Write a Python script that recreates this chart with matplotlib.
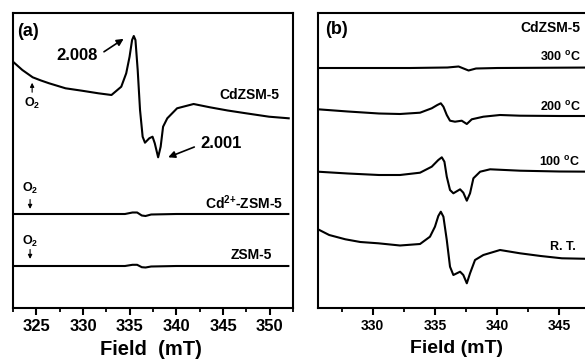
import matplotlib
matplotlib.use("Agg")
import matplotlib.pyplot as plt

plt.rcParams['font.family'] = ['Liberation Sans', 'DejaVu Sans']
plt.rcParams['font.weight'] = 'bold'
plt.rcParams['mathtext.fontset'] = 'custom'
plt.rcParams['mathtext.rm'] = 'Liberation Sans:bold'
plt.rcParams['mathtext.default'] = 'rm'

# ---------------------- DATA (a) ----------------------
# field in mT, signal in arbitrary units (traces offset vertically)
a_cd_field = [322.5, 323.5, 324.61, 325.5, 326.37, 328.13, 329.88, 331.65, 333.05,
              334.10, 334.63, 334.99, 335.26, 335.44, 335.62, 335.86, 336.11,
              336.39, 336.64, 337.10, 337.45, 337.69, 338.05, 338.32, 338.58,
              339.03, 340.08, 341.85, 343.6, 345.5, 347.47, 349.93, 352.04]
a_cd_signal = [246.3, 238, 230.7, 227.5, 224.7, 219.7, 217.3, 214.7, 213,
               221.3, 234.7, 251.3, 268, 272, 268, 238, 198,
               171.3, 165.3, 169.7, 171.3, 164.7, 150.7, 161.3, 181.3,
               189.7, 199.7, 204, 200.7, 197.5, 194.7, 191.3, 189.7]

a_cd2_field = [322.5, 334.5, 335.3, 335.8, 336.3, 336.7, 337.3, 340.0, 352.0]
a_cd2_signal = [94, 94, 95.5, 95.5, 92.5, 92, 93.5, 94, 94]

a_zsm_field = [322.5, 334.5, 335.3, 335.8, 336.3, 336.7, 337.3, 340.0, 352.0]
a_zsm_signal = [42, 42, 43.2, 43.2, 40.8, 40.5, 41.5, 42, 42]

# ---------------------- DATA (b) ----------------------
b_300_field = [325.6, 333.0, 336.0, 336.9, 337.4, 337.7, 338.3, 340.0, 348.0]
b_300_signal = [240, 240, 240.5, 241.5, 239, 237.5, 239.5, 240, 240.5]

b_200_field = [325.6, 328.0, 330.5, 332.19, 333.80, 334.74, 335.19, 335.47, 335.68,
               335.95, 336.21, 336.61, 337.15, 337.56, 337.96, 338.89, 340.23,
               341.84, 345.0, 348.0]
b_200_signal = [198.7, 196.5, 194.5, 194, 195.3, 199.7, 203, 204.7, 201.3,
                193, 187.3, 186.3, 187.3, 184, 188.7, 191.3, 193,
                192.3, 192, 192]

b_100_field = [325.6, 328.0, 330.5, 332.19, 333.80, 334.74, 335.27, 335.55, 335.76,
               335.95, 336.21, 336.48, 337.02, 337.28, 337.56, 337.82, 338.09,
               338.63, 339.43, 341.84, 345.0, 348.0]
b_100_signal = [136.3, 134.5, 133, 133, 135.3, 141.3, 148, 150.7, 146.3,
                131.3, 118, 114.7, 118.7, 115.3, 107.3, 114.7, 129.7,
                136.3, 138.7, 137.3, 136.5, 136.3]

b_rt_field = [325.6, 326.5, 327.8, 329.0, 330.45, 332.19, 333.80, 334.6, 335.0,
              335.27, 335.47, 335.68, 335.95, 336.21, 336.48, 337.02, 337.28,
              337.56, 337.82, 338.22, 338.89, 340.23, 341.84, 343.5, 345.2, 348.0]
b_rt_signal = [78.7, 73, 68.7, 66, 64.7, 62.5, 64, 71.3, 81.3,
               92, 96.3, 91.3, 68, 41.3, 33, 36.3, 33,
               24.7, 34.7, 48, 53, 58, 54.7, 52, 49.7, 49]

a_ticks = [325, 330, 335, 340, 345, 350]
b_ticks = [330, 335, 340, 345]

# ---------------------- PLOT ----------------------
fig = plt.figure(figsize=(5.85, 3.6), dpi=100)
ax_a = fig.add_axes([13 / 585, 1 - 308 / 360, 280 / 585, 295 / 360])
ax_b = fig.add_axes([318 / 585, 1 - 308 / 360, 278.7 / 585, 295 / 360])

lw = 1.5
for f, s in [(a_cd_field, a_cd_signal), (a_cd2_field, a_cd2_signal),
             (a_zsm_field, a_zsm_signal)]:
    ax_a.plot(f, s, color='black', lw=lw, solid_joinstyle='round')
ax_a.set_xlim(322.5, 352)
ax_a.set_ylim(0, 295)

for f, s in [(b_300_field, b_300_signal), (b_200_field, b_200_signal),
             (b_100_field, b_100_signal), (b_rt_field, b_rt_signal)]:
    ax_b.plot(f, s, color='black', lw=lw, solid_joinstyle='round')
ax_b.set_xlim(325.6, 348)
ax_b.set_ylim(0, 295)

for ax, ticks, fs in [(ax_a, a_ticks, 12), (ax_b, b_ticks, 10)]:
    ax.set_xticks(ticks)
    ax.set_xticks([t + 2.5 for t in ticks] + [ticks[0] - 2.5], minor=True)
    ax.set_yticks([])
    ax.tick_params(axis='x', which='major', direction='out', length=5, width=1.5,
                   labelsize=fs, pad=3)
    ax.tick_params(axis='x', which='minor', direction='out', length=3, width=1.3)
    for lab in ax.get_xticklabels():
        lab.set_fontweight('bold')
    for sp in ax.spines.values():
        sp.set_linewidth(1.5)

ax_a.set_xlabel("Field  (mT)", fontsize=14.5, fontweight='bold')
ax_b.set_xlabel("Field (mT)", fontsize=14, fontweight='bold')
ax_a.xaxis.set_label_coords((151 - 13) / 280, -0.11)
ax_b.xaxis.set_label_coords((457 - 318) / 278.7, -0.11)

# annotations (a)
ax_a.text(322.9, 276, "(a)", fontsize=13, fontweight='bold', ha='left', va='center')
ax_a.text(327.2, 253, "2.008", fontsize=12, fontweight='bold', ha='left', va='center')
ax_a.annotate("", xy=(334.6, 270.7), xytext=(332.0, 254.7),
              arrowprops=dict(arrowstyle='-|>', color='black', lw=1.2, mutation_scale=10))
ax_a.text(342.6, 164, "2.001", fontsize=12, fontweight='bold', ha='left', va='center')
ax_a.annotate("", xy=(338.85, 149.7), xytext=(342.2, 162),
              arrowprops=dict(arrowstyle='-|>', color='black', lw=1.2, mutation_scale=10))

ax_a.text(351.0, 213, "CdZSM-5", fontsize=10, fontweight='bold', ha='right', va='center')
ax_a.text(351.4, 105, "Cd$^{2{+}}$-ZSM-5", fontsize=10, fontweight='bold',
          ha='right', va='center')
ax_a.text(350.3, 53, "ZSM-5", fontsize=10, fontweight='bold', ha='right', va='center')

for x, y0, y1, ylab in [(324.55, 213, 228, 204.5), (324.33, 111.3, 96.3, 120),
                        (324.33, 61.3, 46.3, 66.3)]:
    ax_a.annotate("", xy=(x, y1), xytext=(x, y0),
                  arrowprops=dict(arrowstyle='-|>', color='black', lw=0.8, mutation_scale=6))
    ax_a.text(x, ylab, "O$_2$", fontsize=9, fontweight='bold', ha='center', va='center')

# annotations (b)
ax_b.text(326.17, 279, "(b)", fontsize=13, fontweight='bold', ha='left', va='center')
ax_b.text(346.66, 280, "CdZSM-5", fontsize=10, fontweight='bold', ha='right', va='center')
ax_b.text(346.74, 251, "300 $^{o}$C", fontsize=9, fontweight='bold', ha='right', va='center')
ax_b.text(346.74, 201, "200 $^{o}$C", fontsize=9, fontweight='bold', ha='right', va='center')
ax_b.text(346.66, 146, "100 $^{o}$C", fontsize=9, fontweight='bold', ha='right', va='center')
ax_b.text(346.3, 61.3, "R. T.", fontsize=9, fontweight='bold', ha='right', va='center')

fig.savefig("out.png", dpi=100)
